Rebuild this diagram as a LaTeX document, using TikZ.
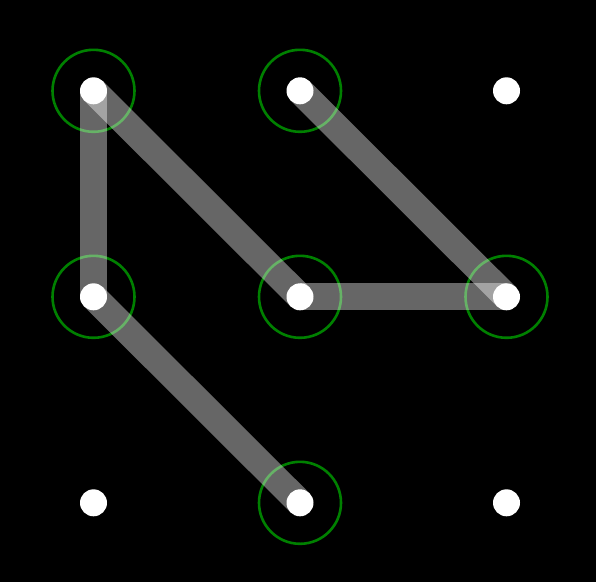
\documentclass[tikz,border=0pt]{standalone}
\usepackage{tikz}
\usetikzlibrary{backgrounds}
\definecolor{ringgreen}{HTML}{008000}

\begin{document}
\begin{tikzpicture}[x=1pt, y=-1pt,
    dot/.style={circle, fill=white, inner sep=0pt, minimum size=27pt},
    ring/.style={circle, draw=ringgreen, line width=2.6pt, inner sep=0pt, minimum size=82pt},
    swipe/.style={white, opacity=0.4, line width=27pt, line cap=butt}]

  % canvas
  \fill[black] (0,0) rectangle (596,582);
  \useasboundingbox (0,0) rectangle (596,582);

  % grid points
  \foreach \c in {0,1,2}
    \foreach \r in {0,1,2}
      \coordinate (p\c\r) at (93.5+206.5*\c, 90.8+206*\r);

  % selected points
  \foreach \p in {p00,p10,p01,p11,p21,p12}
    \node[ring] (r\p) at (\p) {};

  % swipe path
  \draw[swipe] (p12) -- (p01);
  \draw[swipe] (p01) -- (p00);
  \draw[swipe] (p00) -- (p11);
  \draw[swipe] (p11) -- (p21);
  \draw[swipe] (p21) -- (p10);

  % dots on top
  \foreach \c in {0,1,2}
    \foreach \r in {0,1,2}
      \node[dot] (d\c\r) at (p\c\r) {};
\end{tikzpicture}
\end{document}
